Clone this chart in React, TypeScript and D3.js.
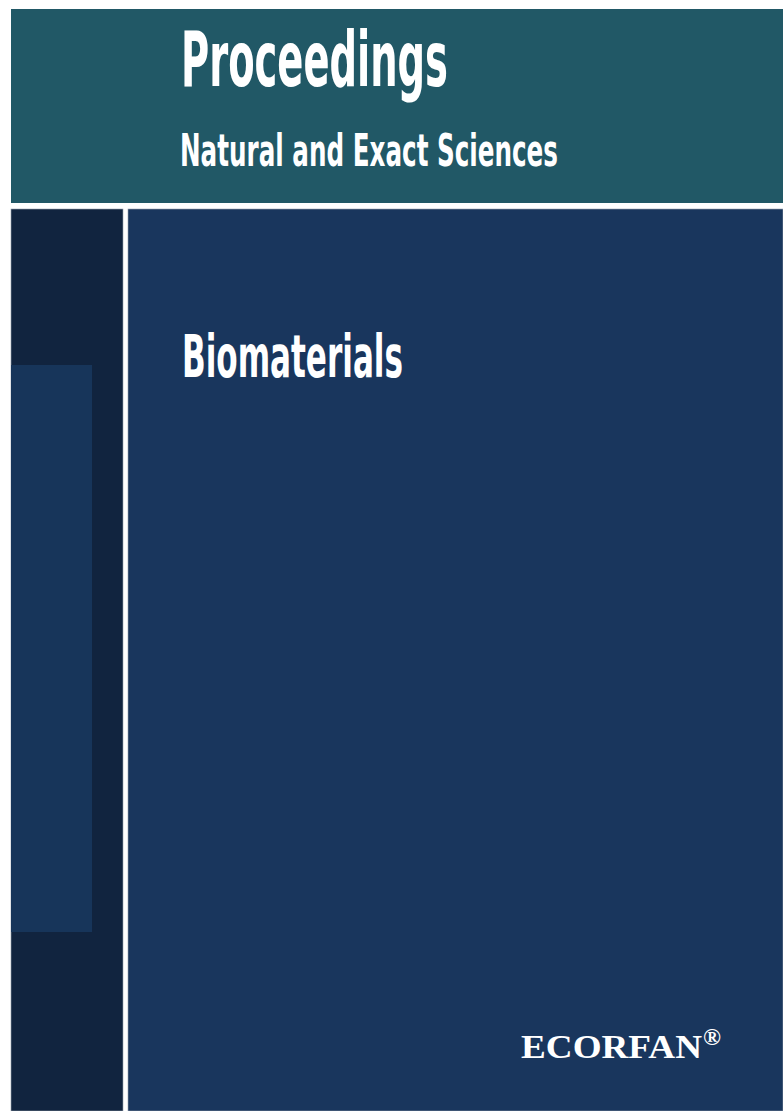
import React, { useEffect, useRef } from "react";
import * as d3 from "d3";

const titles = ["Proceedings", "Natural and Exact Sciences", "Biomaterials"];
const publisher = "ECORFAN";
const mark = "®";

const App = () => {
  const svgRef = useRef<SVGSVGElement | null>(null);

  useEffect(() => {
    const width = 783;
    const height = 1111;
    const svg = d3.select(svgRef.current).attr("width", width).attr("height", height);
    svg.selectAll("*").remove();

    svg.append("rect").attr("width", width).attr("height", height).attr("fill", "#ffffff");

    // header band
    svg.append("rect").attr("x", 11).attr("y", 9).attr("width", width - 11).attr("height", 194).attr("fill", "#215866");

    // left dark column + inner block
    svg.append("rect").attr("x", 11).attr("y", 209).attr("width", 112).attr("height", height - 209).attr("fill", "#11243f").attr("stroke", "#9aa3b0").attr("stroke-width", 0.6);
    svg.append("rect").attr("x", 11).attr("y", 365).attr("width", 81).attr("height", 567).attr("fill", "#17355a");

    // main panel
    svg.append("rect").attr("x", 128).attr("y", 209).attr("width", width - 128).attr("height", height - 209).attr("fill", "#19365d").attr("stroke", "#9aa3b0").attr("stroke-width", 0.6);

    const sans = "'DejaVu Sans Condensed', 'DejaVu Sans', sans-serif";
    const specs = [
      { x: 181, y: 86, size: 76, len: 267 },
      { x: 180, y: 166, size: 44, len: 378 },
      { x: 182, y: 377, size: 58, len: 221 },
    ];
    titles.forEach((t, i) => {
      const s = specs[i];
      svg
        .append("text")
        .attr("x", s.x)
        .attr("y", s.y)
        .attr("fill", "#ffffff")
        .style("font-family", sans)
        .style("font-weight", "bold")
        .style("font-size", `${s.size}px`)
        .attr("textLength", s.len)
        .attr("lengthAdjust", "spacingAndGlyphs")
        .text(t);
    });

    svg
      .append("text")
      .attr("x", 521)
      .attr("y", 1058)
      .attr("fill", "#ffffff")
      .style("font-family", "'Liberation Serif', 'Times New Roman', serif")
      .style("font-weight", "bold")
      .style("font-size", "34px")
      .attr("textLength", 181)
      .attr("lengthAdjust", "spacingAndGlyphs")
      .text(publisher);

    svg
      .append("text")
      .attr("x", 703)
      .attr("y", 1045)
      .attr("fill", "#ffffff")
      .style("font-family", "'Liberation Serif', 'Times New Roman', serif")
      .style("font-weight", "bold")
      .style("font-size", "24px")
      .text(mark);
  }, []);

  return <svg ref={svgRef} style={{ position: "absolute", left: 0, top: 0, display: "block" }}></svg>;
};

export default App;
